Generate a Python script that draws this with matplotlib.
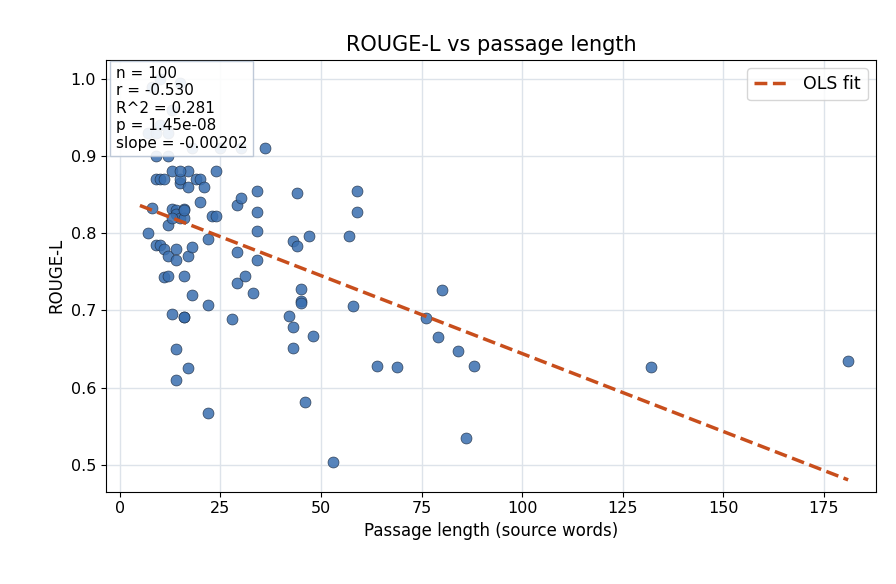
import matplotlib
matplotlib.use("Agg")
import matplotlib.pyplot as plt
import numpy as np

x_words = [7,8,9,10,11,11,12,12,12,13,13,14,14,14,14,14,14,15,15,16,16,16,16,16,17,17,17,18,18,19,20,22,22,22,23,24,
           28,29,29,29,30,31,33,34,34,34,34,36,42,43,43,43,44,44,45,45,45,46,47,48,53,57,58,59,59,64,69,76,79,80,84,86,88,132,181,
           7,9,10,12,8,10,15,13,9,10,12,13,15,17,20,18,21,25,30,9,11,15,16,13,24]
rouge_l = [0.80,0.833,0.785,0.785,0.78,0.743,0.745,0.77,0.81,0.832,0.695,0.83,0.825,0.78,0.765,0.65,0.61,0.82,0.865,0.832,0.82,0.745,0.692,0.692,0.86,0.77,0.625,0.72,0.782,0.87,0.84,0.793,0.707,0.567,0.822,0.822,
           0.689,0.837,0.776,0.736,0.845,0.745,0.723,0.855,0.828,0.803,0.765,0.91,0.693,0.79,0.678,0.651,0.852,0.783,0.728,0.712,0.709,0.581,0.797,0.667,0.503,0.796,0.706,0.855,0.828,0.628,0.626,0.69,0.666,0.727,0.647,0.534,0.628,0.627,0.634,
           0.93,0.93,0.94,0.93,0.99,1.0,0.995,0.96,0.87,0.87,0.90,0.88,0.87,0.88,0.87,0.91,0.86,0.91,0.91,0.90,0.87,0.88,0.83,0.82,0.88]
fit_x = [5, 181]
slope = -0.00202
intercept = 0.846
stats_text = "n = 100\nr = -0.530\nR^2 = 0.281\np = 1.45e-08\nslope = -0.00202"

fig, ax = plt.subplots(figsize=(8.96, 5.84), dpi=100)
ax.scatter(x_words, rouge_l, s=62, color="#3a6fb0", alpha=0.85, edgecolor="#1f2f45", linewidth=0.5, zorder=3)
fx = np.array(fit_x)
ax.plot(fx, intercept + slope*fx, "--", color="#c84e1c", lw=2.5, label="OLS fit", zorder=4)
ax.set_xlim(-3.5, 188)
ax.set_ylim(0.465, 1.025)
ax.set_xticks([0,25,50,75,100,125,150,175])
ax.set_yticks([0.5,0.6,0.7,0.8,0.9,1.0])
ax.grid(True, color="#dde3ea", lw=1)
ax.set_axisbelow(True)
ax.set_xlabel("Passage length (source words)", fontsize=12)
ax.set_ylabel("ROUGE-L", fontsize=12)
ax.set_title("ROUGE-L vs passage length", fontsize=15)
ax.tick_params(labelsize=11.5)
ax.text(0.013, 0.985, stats_text, transform=ax.transAxes, va="top", ha="left", fontsize=11,
        bbox=dict(boxstyle="square,pad=0.35", facecolor="white", alpha=0.9, edgecolor="#b8c4d4"), zorder=5)
ax.legend(loc="upper right", fontsize=12.5)
fig.subplots_adjust(left=0.118, right=0.978, top=0.898, bottom=0.158)
fig.savefig("out.png")
